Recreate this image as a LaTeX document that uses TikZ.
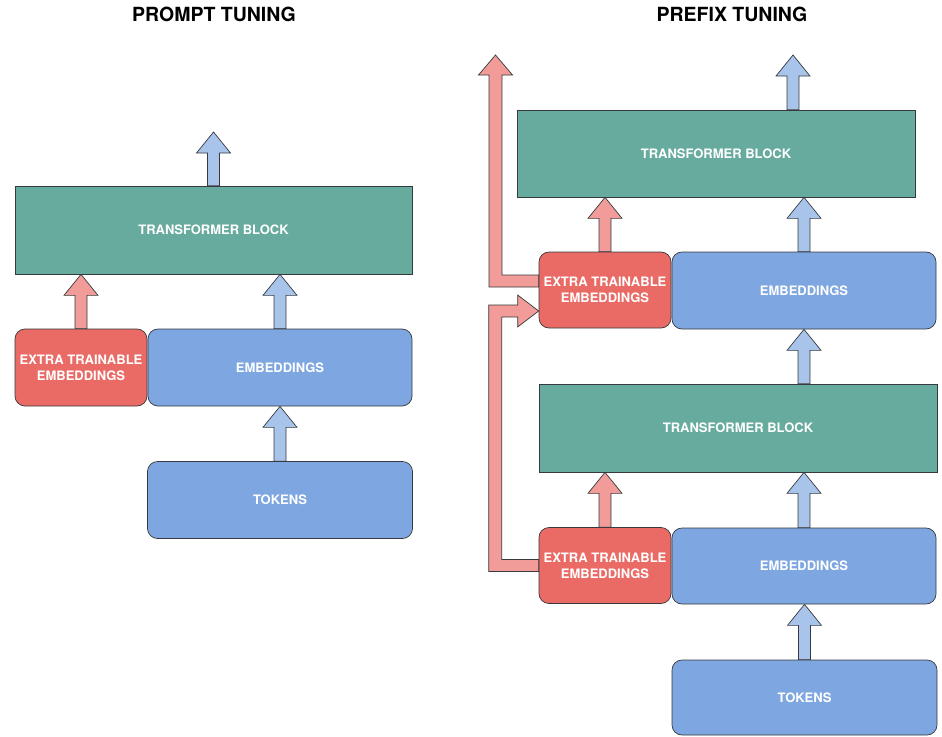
\documentclass[tikz,border=0pt]{standalone}
\usepackage{fontspec}
\newfontfamily\heros{TeX Gyre Heros}
\usetikzlibrary{calc}
\pgfdeclarelayer{background}
\pgfsetlayers{background,main}

\definecolor{blockteal}{HTML}{67AB9F}
\definecolor{embblue}{HTML}{7EA6E0}
\definecolor{extrared}{HTML}{EA6B66}
\definecolor{arrblue}{HTML}{A9C4EB}
\definecolor{arrred}{HTML}{F19C99}
\definecolor{edge}{HTML}{36393D}

% vertical block arrow: base at #2, tip at #3 (x taken from #2)
\newcommand{\liftarrow}[3]{%
  \draw[#1] let \p1=(#2), \p2=(#3) in
    (\x1-6pt,\y1) -- (\x1-6pt,\y2-21pt) -- (\x1-17pt,\y2-21pt) -- (\x1,\y2)
    -- (\x1+17pt,\y2-21pt) -- (\x1+6pt,\y2-21pt) -- (\x1+6pt,\y1) -- cycle;}

\begin{document}
\begin{tikzpicture}[x=1pt,y=-1pt,
  base/.style={draw=edge, line width=0.7pt, inner sep=0pt, text=white,
    font=\heros\bfseries\fontsize{13}{16}\selectfont, align=center},
  tblock/.style={base, fill=blockteal},
  emb/.style={base, fill=embblue, rounded corners=10pt},
  extra/.style={base, fill=extrared, rounded corners=10pt},
  bluearr/.style={fill=arrblue, draw=edge, line width=0.7pt, line join=miter},
  redarr/.style={fill=arrred, draw=edge, line width=0.7pt, line join=miter},
  title/.style={font=\heros\bfseries\fontsize{19.5}{23}\selectfont, anchor=base}]

\useasboundingbox (0,0) rectangle (942,736);

% ---------- prompt tuning ----------
\node[title] (tPrompt) at (214,21) {PROMPT TUNING};
\node[tblock, minimum width=397pt, minimum height=88pt] (tbL) at (213.5,230) {TRANSFORMER BLOCK};
\node[extra, minimum width=132pt, minimum height=77pt] (extL) at (81,367.5) {EXTRA TRAINABLE\\EMBEDDINGS};
\node[emb, minimum width=264pt, minimum height=77pt] (embL) at (280,367.5) {EMBEDDINGS};
\node[emb, minimum width=265pt, minimum height=77pt] (tokL) at (280,500) {TOKENS};
\coordinate (outL) at (213.5,132);

% ---------- prefix tuning ----------
\node[title] (tPrefix) at (732,21) {PREFIX TUNING};
\node[tblock, minimum width=398pt, minimum height=87pt] (tbR1) at (716,153.5) {TRANSFORMER BLOCK};
\node[extra, minimum width=132pt, minimum height=76pt] (extR1) at (605,290) {EXTRA TRAINABLE\\EMBEDDINGS};
\node[emb, minimum width=264pt, minimum height=77pt] (embR1) at (804,290.5) {EMBEDDINGS};
\node[tblock, minimum width=398pt, minimum height=88pt] (tbR2) at (738,428) {TRANSFORMER BLOCK};
\node[extra, minimum width=132pt, minimum height=76pt] (extR2) at (605,565.5) {EXTRA TRAINABLE\\EMBEDDINGS};
\node[emb, minimum width=264pt, minimum height=76pt] (embR2) at (804,566) {EMBEDDINGS};
\node[emb, minimum width=265pt, minimum height=75pt] (tokR) at (804.5,697.5) {TOKENS};
\coordinate (outR) at (793,55);
\coordinate (outRed) at (495.5,55);

\begin{pgfonlayer}{background}
  % prompt tuning arrows
  \liftarrow{bluearr}{tbL.north}{outL}
  \liftarrow{redarr}{extL.north}{extL.north |- tbL.south}
  \liftarrow{bluearr}{embL.north}{embL.north |- tbL.south}
  \liftarrow{bluearr}{tokL.north}{embL.south}

  % prefix tuning arrows
  \liftarrow{bluearr}{outR |- tbR1.north}{outR}
  \liftarrow{redarr}{extR1.north}{extR1.north |- tbR1.south}
  \liftarrow{bluearr}{embR1.north}{embR1.north |- tbR1.south}
  \liftarrow{bluearr}{embR1.south |- tbR2.north}{embR1.south}
  \liftarrow{redarr}{extR2.north}{extR2.north |- tbR2.south}
  \liftarrow{bluearr}{embR2.north}{embR2.north |- tbR2.south}
  \liftarrow{bluearr}{tokR.north}{embR2.south}

  % prefix output of the upper extra embeddings
  \draw[redarr] let \p1=(extR1.west), \p2=(outRed) in
    (\x1,\y1+15pt) -- (\x2+6.5pt,\y1+15pt) -- (\x2+6.5pt,\y2-20pt)
    -- (\x2+17pt,\y2-20pt) -- (\x2,\y2) -- (\x2-17pt,\y2-20pt)
    -- (\x2-6.5pt,\y2-20pt) -- (\x2-6.5pt,\y1+3pt) -- (\x1,\y1+3pt) -- cycle;

  % lower extra embeddings feeding the upper ones
  \draw[redarr] let \p1=(extR2.west), \p2=(extR1.west) in
    (\x1,\y1+6pt) -- (\x1-37pt,\y1+6pt) -- (\x1-37pt,\y2-27pt)
    -- (\x2-21pt,\y2-27pt) -- (\x2-21pt,\y2-37pt) -- (\x2,\y2-21pt)
    -- (\x2-21pt,\y2-5pt) -- (\x2-21pt,\y2-15pt) -- (\x1-50pt,\y2-15pt)
    -- (\x1-50pt,\y1-6pt) -- (\x1,\y1-6pt) -- cycle;
\end{pgfonlayer}
\end{tikzpicture}
\end{document}
